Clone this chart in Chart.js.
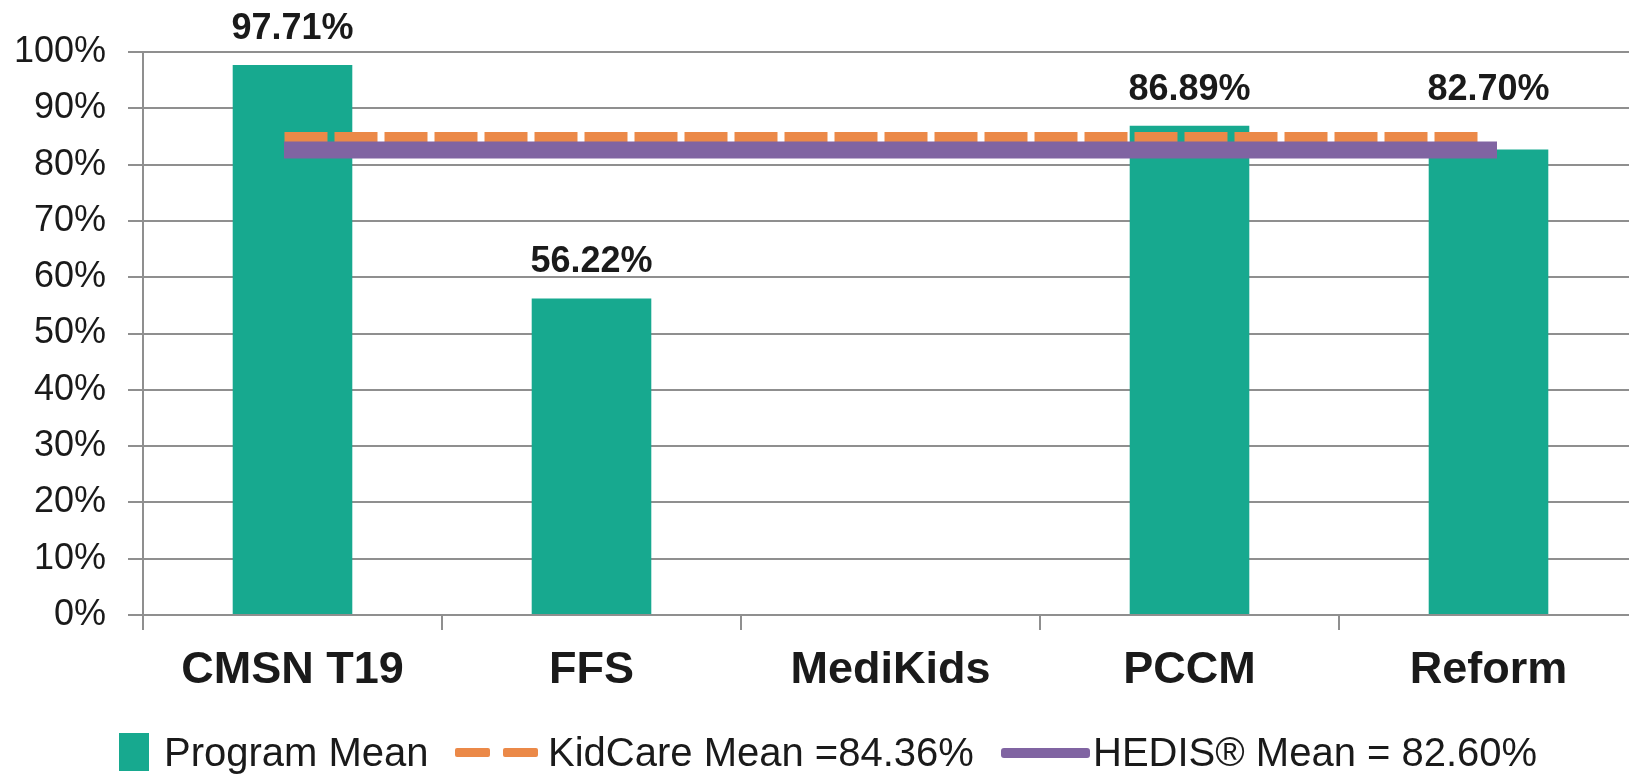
<!DOCTYPE html>
<html>
<head>
<meta charset="utf-8">
<script src="https://cdn.jsdelivr.net/npm/chart.js@4.4.1/dist/chart.umd.min.js"></script>
<style>
    html, body { margin: 0; padding: 0; background: #fff; overflow: hidden; }
    #wrap { position: relative; width: 1629px; height: 777px; overflow: hidden; }
    #chart { position: absolute; left: 0; top: 0; }
    #legend {
        position: absolute; left: 0; top: 0; width: 1629px; height: 777px;
        font-family: "Liberation Sans", Arial, sans-serif; font-size: 40px; color: #1a1a1a;
        white-space: nowrap;
    }
    #legend div, #legend span { position: absolute; }
    #legend span { top: 730px; line-height: 44px; }
    .sq { left: 119px; top: 733px; width: 30px; height: 38px; background: #17a98f; }
    .dash { top: 748px; width: 35px; height: 9px; background: #eb8948; border-radius: 2px; }
    .solid { left: 1001px; top: 748px; width: 89px; height: 10px; background: #8064a2; border-radius: 3px; }
</style>
</head>
<body>
<div id="wrap">
    <canvas id="chart" width="1660" height="777"></canvas>
    <div id="legend">
        <div class="sq"></div><span style="left:164px">Program Mean</span>
        <div class="dash" style="left:455px"></div><div class="dash" style="left:503px"></div>
        <span style="left:548px">KidCare Mean =84.36%</span>
        <div class="solid"></div><span style="left:1093px">HEDIS® Mean = 82.60%</span>
    </div>
</div>
<script>
    const categories = ['CMSN T19', 'FFS', 'MediKids', 'PCCM', 'Reform'];
    const programMean = [97.71, 56.22, null, 86.89, 82.70];
    const kidcareMean = 84.36;
    const hedisMean = 82.60;
    const yTicks = [0, 10, 20, 30, 40, 50, 60, 70, 80, 90, 100];

    const gridColor = '#8f8f8f';
    const textColor = '#1a1a1a';
    const fontFamily = '"Liberation Sans", Arial, sans-serif';

    // value labels above bars, lifted above the mean line when it would sit between
    const barLabels = {
        id: 'barLabels',
        afterDatasetsDraw(chart) {
            const ctx = chart.ctx;
            const meta = chart.getDatasetMeta(0);
            const yScale = chart.scales.y;
            const lineTop = yScale.getPixelForValue(kidcareMean) - 8;
            ctx.save();
            ctx.font = 'bold 36px ' + fontFamily;
            ctx.fillStyle = textColor;
            ctx.textAlign = 'center';
            ctx.textBaseline = 'middle';
            meta.data.forEach((bar, i) => {
                const v = programMean[i];
                if (v === null) return;
                let y = bar.y - 36;
                if (lineTop < bar.y && lineTop > y - 20) y = Math.min(y, lineTop - 42);
                ctx.fillText(v.toFixed(2) + '%', bar.x, y);
            });
            ctx.restore();
        }
    };

    new Chart(document.getElementById('chart'), {
        data: {
            labels: categories,
            datasets: [
                {
                    type: 'bar',
                    label: 'Program Mean',
                    data: programMean,
                    backgroundColor: '#17a98f',
                    categoryPercentage: 1,
                    barPercentage: 0.4,
                    order: 3
                },
                {
                    type: 'line',
                    label: 'KidCare Mean =84.36%',
                    data: categories.map(() => kidcareMean),
                    borderColor: '#eb8948',
                    borderWidth: 16,
                    borderDash: [27, 23],
                    borderCapStyle: 'square',
                    pointRadius: 0,
                    order: 2
                },
                {
                    type: 'line',
                    label: 'HEDIS® Mean = 82.60%',
                    data: categories.map(() => hedisMean),
                    borderColor: '#8064a2',
                    borderWidth: 17,
                    borderCapStyle: 'square',
                    pointRadius: 0,
                    order: 1
                }
            ]
        },
        options: {
            responsive: false,
            animation: false,
            layout: { padding: { left: 12, right: 22, top: 52, bottom: 65 } },
            plugins: {
                legend: { display: false },
                tooltip: { enabled: false }
            },
            scales: {
                x: {
                    offset: true,
                    grid: {
                        offset: true,
                        drawOnChartArea: false,
                        drawTicks: true,
                        tickLength: 15,
                        color: gridColor,
                        lineWidth: 2
                    },
                    border: { color: gridColor, width: 2 },
                    ticks: {
                        color: textColor,
                        padding: 14,
                        font: { family: fontFamily, size: 45, weight: 'bold' }
                    }
                },
                y: {
                    min: 0,
                    max: 100,
                    afterFit(scale) { scale.width = 131; },
                    afterBuildTicks(scale) { scale.ticks = yTicks.map(v => ({ value: v })); },
                    grid: {
                        color: gridColor,
                        lineWidth: 2,
                        tickLength: 15
                    },
                    border: { color: gridColor, width: 2 },
                    ticks: {
                        color: textColor,
                        padding: 22,
                        font: { family: fontFamily, size: 36 },
                        callback: v => v + '%'
                    }
                }
            }
        },
        plugins: [barLabels]
    });
</script>
</body>
</html>
